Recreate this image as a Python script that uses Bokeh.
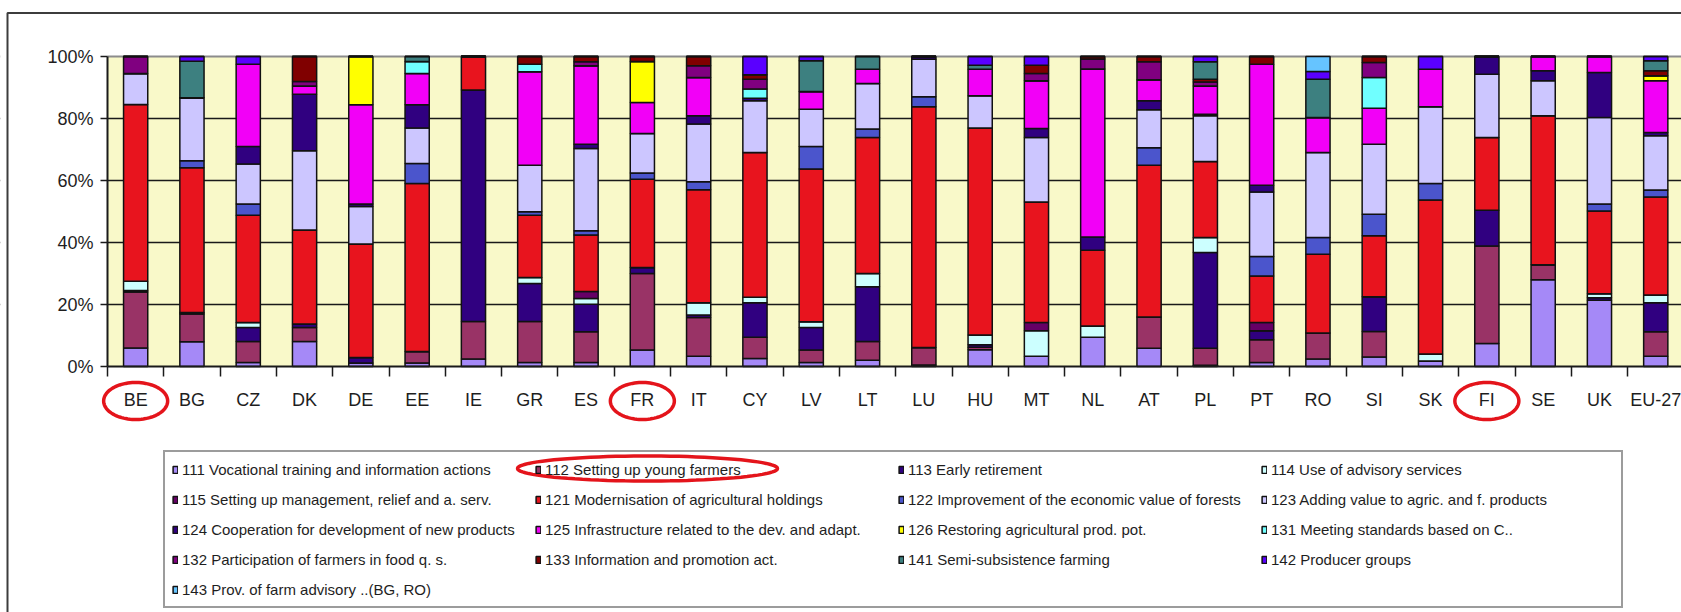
from bokeh.plotting import figure
from bokeh.models import (Range1d, FixedTicker, PrintfTickFormatter, ColumnDataSource,
                          Grid, PolyAnnotation, BoxAnnotation)
from bokeh.embed import file_html
from bokeh.resources import INLINE
import numpy as np

countries = ["BE", "BG", "CZ", "DK", "DE", "EE", "IE", "GR", "ES", "FR", "IT", "CY", "LV", "LT",
             "LU", "HU", "MT", "NL", "AT", "PL", "PT", "RO", "SI", "SK", "FI", "SE", "UK", "EU-27"]

labels = ["111 Vocational training and information actions",
          "112 Setting up young farmers",
          "113 Early retirement",
          "114 Use of advisory services",
          "115 Setting up management, relief and a. serv.",
          "121 Modernisation of agricultural holdings",
          "122 Improvement of the economic value of forests",
          "123 Adding value to agric. and f. products",
          "124 Cooperation for development of new products",
          "125 Infrastructure related to the dev. and adapt.",
          "126 Restoring agricultural prod. pot.",
          "131 Meeting standards based on C..",
          "132 Participation of farmers in food q. s.",
          "133 Information and promotion act.",
          "141 Semi-subsistence farming",
          "142 Producer groups",
          "143 Prov. of farm advisory ..(BG, RO)"]

#        BE    BG    CZ    DK    DE    EE    IE    GR    ES    FR    IT    CY    LV    LT    LU    HU    MT    NL    AT    PL    PT    RO    SI    SK    FI    SE    UK    EU
m111 = [6.0,  8.0,  1.3,  8.1,  1.1,  1.1,  2.4,  1.3,  1.3,  5.3,  3.3,  2.6,  1.3,  2.0,  0.5,  5.4,  3.3,  9.4,  5.9,  0.4,  1.3,  2.4,  3.1,  1.8,  7.4, 28.0, 21.4,  3.3]
m112 = [18.0, 8.9,  6.8,  4.5,  0.0,  3.7, 12.1, 13.2,  9.9, 24.7, 12.5,  6.8,  4.0,  6.1,  5.6,  0.8,  0.0,  0.0, 10.1,  5.5,  7.3,  8.4,  8.2,  0.0, 31.5,  4.8,  0.0,  7.9]
m113 = [0.5,  0.5,  4.5,  1.1,  1.8,  0.0, 74.7, 12.3,  8.9,  1.9,  0.8, 11.2,  7.3, 17.6,  0.0,  0.8,  0.0,  0.0,  0.0, 30.9,  2.9,  0.0, 11.2,  0.0, 11.5,  0.0,  0.8,  9.4]
m114 = [3.0,  0.0,  1.6,  0.0,  0.0,  0.0,  0.0,  1.9,  1.8,  0.0,  4.0,  1.7,  1.8,  4.3,  0.0,  3.2,  8.2,  3.7,  0.0,  4.8,  0.0,  0.0,  0.0,  2.2,  0.0,  0.0,  1.3,  2.5]
m115 = [0.0,  0.0,  0.0,  0.0,  0.0,  0.0,  0.0,  0.0,  2.3,  0.0,  0.0,  0.0,  0.0,  0.0,  0.0,  0.0,  2.7,  0.0,  0.0,  0.0,  2.7,  0.0,  0.0,  0.0,  0.0,  0.0,  0.0,  0.0]
m121 = [57.0, 46.7, 34.6, 30.3, 36.6, 54.2, 10.8, 20.1, 18.2, 28.5, 36.4, 46.7, 49.3, 43.9, 77.7, 66.7, 38.9, 24.4, 48.9, 24.5, 15.0, 25.4, 19.7, 49.7, 23.5, 48.1, 26.7, 31.6]
m122 = [0.0,  2.3,  3.6,  0.0,  0.0,  6.5,  0.0,  1.1,  1.4,  2.0,  2.6,  0.0,  7.3,  2.7,  3.2,  0.0,  0.0,  0.0,  5.7,  0.0,  6.3,  5.4,  6.9,  5.3,  0.0,  0.0,  2.2,  2.2]
m123 = [10.0, 20.3, 12.9, 25.6, 12.1, 11.4, 0.0, 15.0, 26.5, 12.8, 18.6, 16.7, 12.0, 14.7, 12.1, 10.4, 20.8,  0.0, 12.2, 14.8, 20.8, 27.4, 22.6, 24.8, 20.4, 11.3, 27.9, 17.5]
m124 = [0.0,  0.0,  5.7, 18.2,  0.8,  7.5,  0.0,  0.0,  1.4,  0.0,  2.7,  0.8,  0.0,  0.0,  0.9,  0.0,  2.9,  4.3,  2.9,  0.5,  2.2,  0.0,  0.0,  0.0,  5.7,  3.2, 14.5,  1.1]
m125 = [0.0,  0.0, 26.5,  2.7, 32.0, 10.1,  0.0, 30.2, 25.3, 10.0, 12.3,  0.0,  5.7,  4.6,  0.0,  8.6, 15.4, 54.2,  6.8,  9.1, 39.0, 11.3, 11.6, 12.1,  0.0,  4.6,  5.2, 16.7]
m126 = [0.0,  0.0,  0.0,  0.0, 15.6,  0.0,  0.0,  0.0,  0.0, 13.2,  0.0,  0.0,  0.0,  0.0,  0.0,  0.0,  0.0,  0.0,  0.0,  0.0,  0.0,  0.0,  0.0,  0.0,  0.0,  0.0,  0.0,  1.6]
m131 = [0.0,  0.0,  0.0,  0.0,  0.0,  3.9,  0.0,  2.4,  0.0,  0.0,  0.0,  3.0,  0.0,  0.0,  0.0,  0.0,  0.0,  0.0,  0.0,  0.0,  0.0,  0.0,  9.9,  0.0,  0.0,  0.0,  0.0,  0.0]
m132 = [5.5,  0.0,  0.0,  1.4,  0.0,  0.0,  0.0,  0.0,  1.3,  0.0,  3.8,  3.2,  0.0,  0.0,  0.0,  0.0,  2.3,  3.2,  5.8,  1.3,  0.0,  0.0,  4.9,  0.0,  0.0,  0.0,  0.0,  0.0]
m133 = [0.0,  0.0,  0.0,  8.1,  0.0,  0.0,  0.0,  2.5,  1.7,  1.6,  3.0,  1.4,  0.0,  0.0,  0.0,  0.0,  2.7,  0.8,  1.7,  0.9,  2.5,  0.0,  1.9,  0.0,  0.0,  0.0,  0.0,  1.6]
m141 = [0.0, 11.8,  0.0,  0.0,  0.0,  1.6,  0.0,  0.0,  0.0,  0.0,  0.0,  0.0,  9.9,  4.1,  0.0,  1.3,  0.0,  0.0,  0.0,  5.6,  0.0, 12.4,  0.0,  0.0,  0.0,  0.0,  0.0,  3.2]
m142 = [0.0,  1.5,  2.5,  0.0,  0.0,  0.0,  0.0,  0.0,  0.0,  0.0,  0.0,  5.9,  1.4,  0.0,  0.0,  2.8,  2.8,  0.0,  0.0,  1.7,  0.0,  2.5,  0.0,  4.1,  0.0,  0.0,  0.0,  1.4]
m143 = [0.0,  0.0,  0.0,  0.0,  0.0,  0.0,  0.0,  0.0,  0.0,  0.0,  0.0,  0.0,  0.0,  0.0,  0.0,  0.0,  0.0,  0.0,  0.0,  0.0,  0.0,  4.8,  0.0,  0.0,  0.0,  0.0,  0.0,  0.0]

series = [m111, m112, m113, m114, m115, m121, m122, m123, m124, m125,
          m126, m131, m132, m133, m141, m142, m143]
codes = ["m111", "m112", "m113", "m114", "m115", "m121", "m122", "m123", "m124", "m125",
         "m126", "m131", "m132", "m133", "m141", "m142", "m143"]
colors = ["#A589F7", "#993366", "#300080", "#CCFFFF", "#660066", "#E8141E", "#4B55CC",
          "#CCC6FF", "#300080", "#F200F7", "#FFFF00", "#70FFFF", "#800080", "#800000",
          "#3D8080", "#5A00FF", "#66C4FF"]

highlight = ["BE", "FR", "FI"]

# shares in percent of each country's total
arr = np.array(series, dtype=float)
shares = arr / arr.sum(axis=0) * 100.0
src = ColumnDataSource({"x": list(range(len(countries))),
                        **{c: shares[k] for k, c in enumerate(codes)}})

# page geometry (Bokeh's page template has no body margin)
W, H = 1681, 612
AX_X = 107.0      # page x of the value axis
ZERO_Y = 366.0    # page y of 0 %
PITCH = 56.3      # px per category
PPY = 3.1         # px per percent


def dx(page_x):
    return -0.5 + (page_x - AX_X) / PITCH


def dy(page_y):
    return (ZERO_Y - page_y) / PPY


x0, x1 = dx(0), dx(W)
y0, y1 = dy(H), dy(0)

p = figure(width=W, height=H, output_backend="svg", toolbar_location=None,
           x_range=Range1d(x0, x1), y_range=Range1d(y0, y1),
           min_border=0, background_fill_color="white", border_fill_color="white",
           outline_line_color=None)
p.title.visible = False

# yellow plot area
p.add_layout(BoxAnnotation(left=-0.5, bottom=0, top=100, fill_color="#F9F9C9",
                           fill_alpha=1, line_alpha=0, level="image"))

p.xgrid.visible = False
p.ygrid.ticker = FixedTicker(ticks=[20, 40, 60, 80])
p.ygrid.grid_line_color = "#1a1a1a"
p.ygrid.grid_line_width = 1.5
p.add_layout(Grid(dimension=1, ticker=FixedTicker(ticks=[100]),
                  grid_line_color="#8c8c8c", grid_line_width=2))

# white strip hiding the grid lines left of the value axis
p.add_layout(BoxAnnotation(right=-0.5, fill_color="white", fill_alpha=1,
                           line_alpha=0, level="underlay"))

p.vbar_stack(codes, x="x", width=0.43, source=src, fill_color=colors,
             line_color="#111111", line_width=1.5, legend_label=labels)

FONT = "Liberation Sans"
TXT = "#1e1e1e"

ya = p.yaxis[0]
ya.fixed_location = -0.5
ya.bounds = (0, 100)
ya.ticker = FixedTicker(ticks=[0, 20, 40, 60, 80, 100])
ya.formatter = PrintfTickFormatter(format="%d%%")
ya.major_tick_out = 7
ya.major_tick_in = 0
ya.minor_tick_line_color = None
ya.major_label_standoff = 7
ya.axis_line_width = 2
ya.axis_line_color = "#1a1a1a"
ya.major_tick_line_color = "#1a1a1a"
ya.major_tick_line_width = 1.5
ya.major_label_text_font = FONT
ya.major_label_text_font_size = "18px"
ya.major_label_text_color = TXT

xa = p.xaxis[0]
xa.fixed_location = 0
xa.bounds = (-0.5, x1)
xa.ticker = FixedTicker(ticks=list(range(len(countries))),
                        minor_ticks=[i - 0.5 for i in range(len(countries) + 1)])
xa.major_label_overrides = {i: c for i, c in enumerate(countries)}
xa.major_tick_line_color = None
xa.major_tick_out = 0
xa.major_tick_in = 0
xa.minor_tick_out = 10
xa.minor_tick_in = 0
xa.minor_tick_line_color = "#1a1a1a"
xa.minor_tick_line_width = 1.5
xa.axis_line_width = 2
xa.axis_line_color = "#1a1a1a"
xa.major_label_standoff = 13
xa.major_label_text_font = FONT
xa.major_label_text_font_size = "18px"
xa.major_label_text_color = TXT

lg = p.legend[0]
lg.location = (163, H - 608)
lg.orientation = "horizontal"
lg.ncols = 4
lg.glyph_width = 6
lg.glyph_height = 9
lg.label_standoff = 4
lg.label_width = 343
lg.label_height = 20
lg.spacing = 10
lg.padding = 7
lg.margin = 0
lg.label_text_font = FONT
lg.label_text_font_size = "15px"
lg.label_text_color = TXT
lg.border_line_color = "#3a3a3a"
lg.border_line_width = 2
lg.background_fill_alpha = 0.0


def ellipse_pts(cx, cy, rx, ry, n=90):
    t = np.linspace(0, 2 * np.pi, n, endpoint=False)
    return list(cx + rx * np.cos(t)), list(cy + ry * np.sin(t))


RED = "#E4141B"
# red hand-drawn circles around highlighted tick labels
for c in highlight:
    i = countries.index(c)
    xs, ys = ellipse_pts(i, dy(400.5), 32 / PITCH, 18.5 / PPY)
    p.add_layout(PolyAnnotation(xs=xs, ys=ys, fill_alpha=0, line_color=RED, line_alpha=1,
                                line_width=3.5, level="overlay"))

# red circle around the legend entry "112 Setting up young farmers"
xs, ys = ellipse_pts(dx(647), dy(468), 130 / PITCH, 12.5 / PPY)
p.add_layout(PolyAnnotation(xs=xs, ys=ys, fill_alpha=0, line_color=RED, line_alpha=1,
                            line_width=3.5, level="overlay"))

# outer chart frame (left and top edges visible)
p.add_layout(BoxAnnotation(left=dx(7), right=x1 + 10, top=dy(12.5), bottom=y0 - 100,
                           fill_alpha=0, line_color="#3c3c3c", line_alpha=1, line_width=2,
                           level="overlay"))

open("out.html", "w").write(file_html(p, INLINE))
